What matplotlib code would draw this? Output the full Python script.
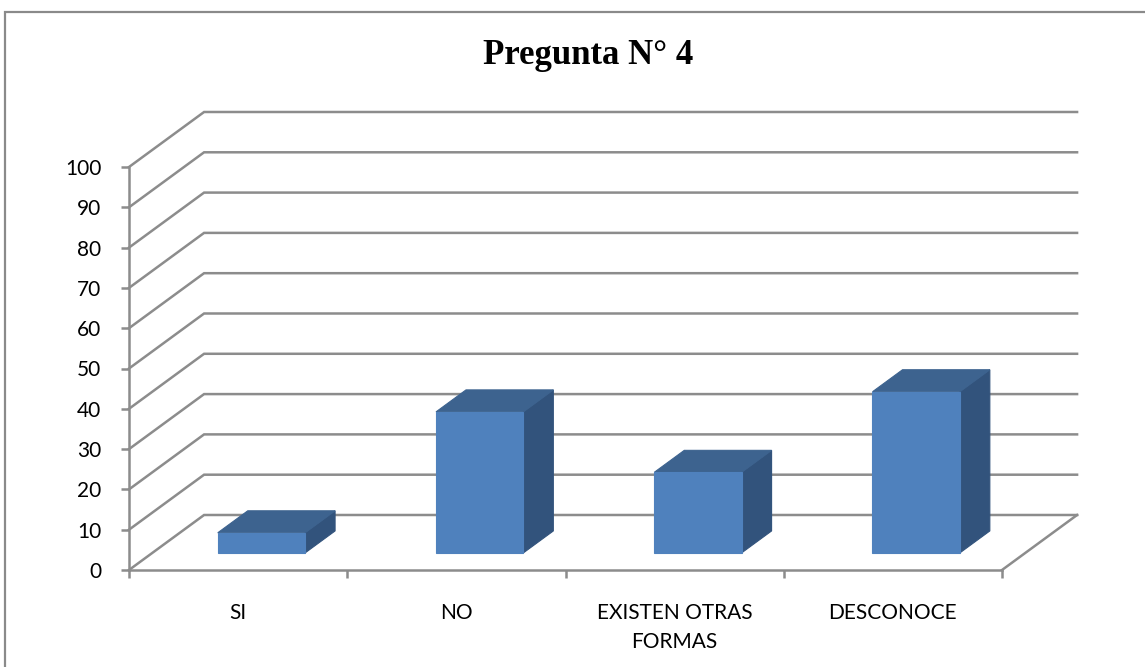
import matplotlib
matplotlib.use("Agg")
import matplotlib.pyplot as plt
from matplotlib.patches import Polygon, Rectangle

# datos de la pregunta 4
categorias = ['SI', 'NO', 'EXISTEN OTRAS\nFORMAS', 'DESCONOCE']
valores = [5, 35, 20, 40]
yticks = list(range(0, 101, 10))

# colores estilo Excel 3D
c_frente = '#4F81BD'
c_arriba = '#3D638F'
c_lado = '#32537C'
c_grid = '#8C8C8C'

W, H = 1145, 667
fig = plt.figure(figsize=(W / 100, H / 100), dpi=100)
fig.patch.set_facecolor('white')

# borde del area del grafico
fig.patches.append(Rectangle((5 / W, -0.01), (W - 5) / W + 0.01, (H - 12) / H + 0.01,
                             transform=fig.transFigure, fill=False,
                             edgecolor='#8A8A8A', linewidth=1.6))

ax = fig.add_axes([129 / W, (H - 570) / H, (1002 - 129) / W, (570 - 167) / H])
n = len(categorias)
ax.set_xlim(0, n)
ax.set_ylim(0, 100)
ax.patch.set_alpha(0)

# desplazamiento de profundidad (en unidades de datos)
ddx = 0.344
ddy = 13.65

# paredes: lineas de la rejilla
for v in yticks:
    ax.plot([0, ddx, n + ddx], [v, v + ddy, v + ddy], color=c_grid,
            linewidth=1.8, clip_on=False, zorder=1, solid_joinstyle='miter')
ax.plot([n, n + ddx], [0, ddy], color=c_grid, linewidth=1.8, clip_on=False, zorder=1)

# barras 3D
d0, d1 = 0.31, 0.71
bw = 0.4
for i, h in enumerate(valores):
    x0 = i + (1 - bw) / 2
    x1 = x0 + bw
    fx, fy = d0 * ddx, d0 * ddy
    bx, by = d1 * ddx, d1 * ddy
    frente = [(x0 + fx, fy), (x1 + fx, fy), (x1 + fx, h + fy), (x0 + fx, h + fy)]
    arriba = [(x0 + fx, h + fy), (x1 + fx, h + fy), (x1 + bx, h + by), (x0 + bx, h + by)]
    lado = [(x1 + fx, fy), (x1 + bx, by), (x1 + bx, h + by), (x1 + fx, h + fy)]
    for pts, col in [(lado, c_lado), (arriba, c_arriba), (frente, c_frente)]:
        ax.add_patch(Polygon(pts, closed=True, facecolor=col, edgecolor=col,
                             linewidth=0.8, zorder=3, clip_on=False))

# ejes
for s in ['top', 'right']:
    ax.spines[s].set_visible(False)
for s in ['left', 'bottom']:
    ax.spines[s].set_color(c_grid)
    ax.spines[s].set_linewidth(1.8)
    ax.spines[s].set_zorder(2)

ax.set_yticks(yticks)
ax.set_yticklabels([str(v) for v in yticks])
ax.tick_params(axis='y', length=6, width=1.8, color=c_grid, pad=14,
               labelsize=15, labelcolor='black')
ax.set_xticks(range(n + 1))
ax.set_xticklabels([''] * (n + 1))
ax.set_xticks([i + 0.5 for i in range(n)], minor=True)
ax.set_xticklabels(categorias, minor=True, fontsize=15, linespacing=1.55)
ax.tick_params(axis='x', which='major', length=6, width=1.8, color=c_grid)
ax.tick_params(axis='x', which='minor', length=0, pad=24, labelcolor='black')
for lbl in ax.get_yticklabels() + ax.get_xticklabels(minor=True):
    lbl.set_family(['Lato', 'DejaVu Sans'])

fig.text(588 / W, 1 - 56 / H, 'Pregunta N° 4', ha='center', va='center',
         fontsize=25, fontweight='bold', family=['Liberation Serif', 'DejaVu Serif'])

fig.savefig('out.png', dpi=100)
